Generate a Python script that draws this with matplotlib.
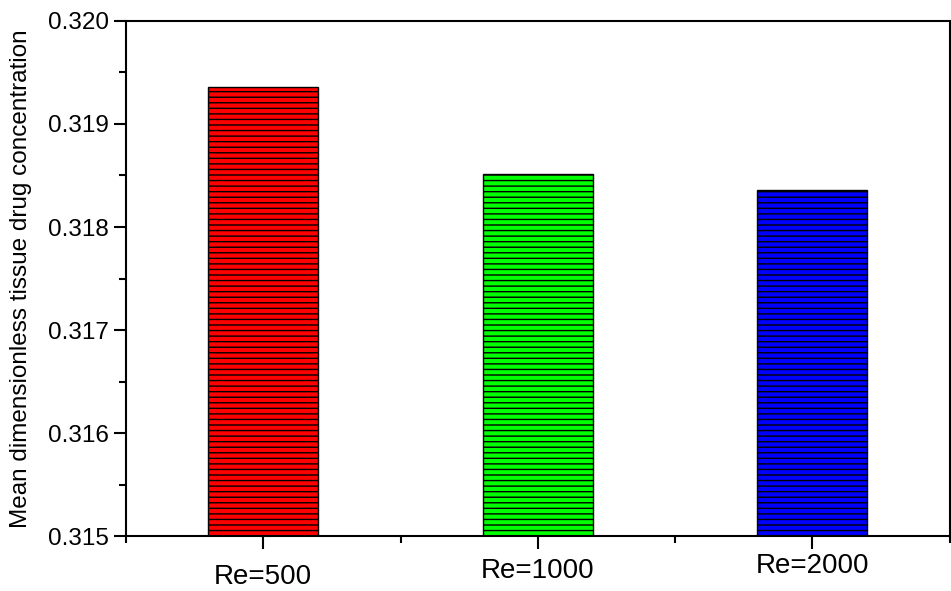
import matplotlib.pyplot as plt
from matplotlib.ticker import MultipleLocator
import matplotlib.transforms as mtransforms

# data
labels = ['Re=500', 'Re=1000', 'Re=2000']
values = [0.31936, 0.31851, 0.31836]
colors = ['#FF0000', '#00FF00', '#0000FF']
label_shift = [-6, 0, 5]  # labels sit at slightly different heights (px)

plt.rcParams['font.family'] = ['Liberation Sans', 'DejaVu Sans']
plt.rcParams['hatch.linewidth'] = 1.0

fig = plt.figure(figsize=(9.51, 5.91), dpi=100)
ax = fig.add_axes([0.1325, 0.093, 0.866, 0.8715])

x = [1, 2, 3]
ax.bar(x, [v - 0.315 for v in values], bottom=0.315, width=0.4,
       color=colors, edgecolor='black', linewidth=1, hatch='---')

ax.set_xlim(0.5, 3.5)
ax.set_ylim(0.315, 0.320)
ax.set_xticks(x)
ax.set_xticklabels(labels, fontsize=20)
ax.xaxis.set_minor_locator(MultipleLocator(0.5))
ax.yaxis.set_major_locator(MultipleLocator(0.001))
ax.yaxis.set_minor_locator(MultipleLocator(0.0005))
ax.yaxis.set_major_formatter(plt.FormatStrFormatter('%.3f'))
ax.tick_params(axis='y', labelsize=17.5)

ax.tick_params(which='major', length=9, width=1.5, direction='out')
ax.tick_params(which='minor', length=5, width=1.5, direction='out')
ax.tick_params(axis='x', which='major', pad=6.5)

for lab, dy in zip(ax.get_xticklabels(), label_shift):
    lab.set_transform(lab.get_transform() +
                      mtransforms.ScaledTranslation(0, dy / 100, fig.dpi_scale_trans))

for s in ax.spines.values():
    s.set_linewidth(1.5)

ax.set_ylabel('Mean dimensionless tissue drug concentration', fontsize=17.5, labelpad=11)

fig.savefig('out.png', dpi=100)
